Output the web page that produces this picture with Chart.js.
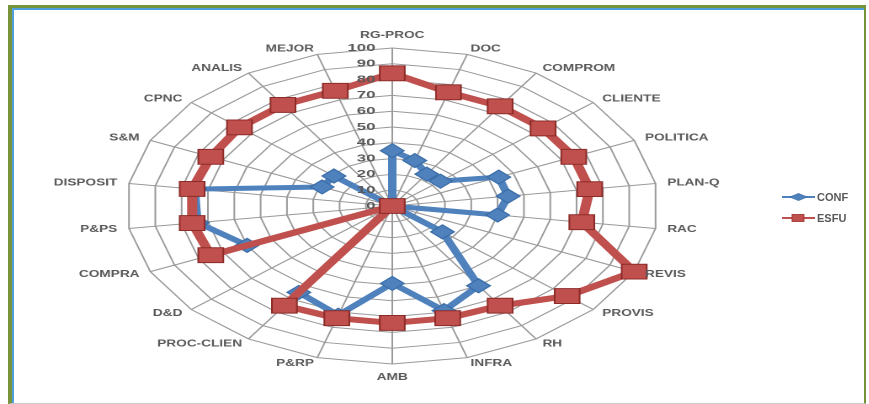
<!DOCTYPE html>
<html>
<head>
<meta charset="utf-8">
<title>CONF / ESFU</title>
<script src="https://cdn.jsdelivr.net/npm/chart.js@4.4.1/dist/chart.umd.min.js"></script>
<style>
  html, body { margin: 0; padding: 0; background: #fff; }
  body { width: 869px; height: 404px; position: relative; overflow: hidden; }

  /* picture frame */
  .frame {
    position: absolute; left: 8px; top: 5px; width: 852px; height: 395px;
    border-top: 3px solid #77933c; border-left: 4px solid #77933c;
    border-right: 2px solid #77933c; border-bottom: 1px solid #c8c8c8;
  }
  .frame::before {
    content: ''; position: absolute; left: 0; top: 0; right: 0; bottom: 0;
    border-top: 2px solid #4f9fdc; border-left: 2px solid #4f9fdc;
  }

  /* the source picture is stretched sideways, so is the chart */
  #stretch {
    position: absolute; left: 0; top: 0; width: 466px; height: 404px;
    transform-origin: 0 0; transform: scaleX(1.6835);
  }
  #radar { width: 466px; height: 404px; }

  .legend {
    position: absolute; left: 782px; top: 186px;
    font: bold 11px 'Liberation Sans', Arial, sans-serif; color: #595959;
  }
  .legend div { height: 21px; display: flex; align-items: center; }
  .legend svg { margin-right: 2px; }
</style>
</head>
<body>
<div class="frame"></div>
<div id="stretch"><canvas id="radar" width="466" height="404"></canvas></div>
<div class="legend">
  <div>
    <svg width="33" height="12"><line x1="0" y1="6" x2="33" y2="6" stroke="#4f81bd" stroke-width="2"/><polygon points="8,6 16.5,2.5 25,6 16.5,9.5" fill="#4f81bd" stroke="#3b6ea8" stroke-width="0.8"/></svg>CONF
  </div>
  <div>
    <svg width="33" height="12"><line x1="0" y1="6" x2="33" y2="6" stroke="#c0504d" stroke-width="2"/><rect x="10" y="2.5" width="12" height="7" fill="#c0504d" stroke="#9b2d2a" stroke-width="0.8"/></svg>ESFU
  </div>
</div>

<script>
/* ============ DATA ============ */
const categories = ['RG-PROC', 'DOC', 'COMPROM', 'CLIENTE', 'POLITICA', 'PLAN-Q', 'RAC', 'REVIS',
  'PROVIS', 'RH', 'INFRA', 'AMB', 'P&RP', 'PROC-CLIEN', 'D&D', 'COMPRA', 'P&PS', 'DISPOSIT',
  'S&M', 'CPNC', 'ANALIS', 'MEJOR'];
const confValues = [35, 30, 24, 24, 44, 44, 40, 0, 25, 60, 69, 49, 72, 65, 0, 60, 74, 75, 29, 29, 0, 0];
const esfuValues = [84, 75, 75, 75, 75, 75, 72, 100, 87, 75, 74, 74, 74, 75, 0, 75, 76, 76, 75, 76, 76, 76];
const scaleMin = 0;
const scaleMax = 100;
const scaleStep = 10;

const FONT = "'Liberation Sans', Arial, sans-serif";
const TEXT = '#595959';

/* ============ LABEL PLUGIN ============
   Category names sit beside each spoke like Excel does, and are drawn
   a bit narrower to undo the sideways stretch of the canvas.
   Tick numbers sit left of the vertical spoke, 0 included. */
const radarText = {
  id: 'radarText',
  afterDatasetsDraw(chart) {
    const r = chart.scales.r;
    const ctx = chart.ctx;
    ctx.save();
    ctx.fillStyle = TEXT;
    ctx.textBaseline = 'middle';

    ctx.font = `bold 10px ${FONT}`;
    chart.data.labels.forEach((label, i) => {
      const a = r.getIndexAngle(i);
      const sin = Math.sin(a);
      const cos = Math.cos(a);
      const v = r.getPointPosition(i, r.drawingArea);
      let x = v.x + 7 * sin;
      let y = v.y - 6 * cos;
      let align = sin > 0.01 ? 'left' : sin < -0.01 ? 'right' : 'center';
      if (align === 'center') y = v.y - 13 * cos;
      ctx.save();
      ctx.translate(x, y);
      ctx.scale(0.81, 1);
      ctx.textAlign = align;
      ctx.fillText(label, 0, 0);
      ctx.restore();
    });

    ctx.textAlign = 'right';
    r.ticks.forEach((t) => {
      const d = r.getDistanceFromCenterForValue(t.value);
      ctx.fillText(t.label, r.xCenter - 10, r.yCenter - d);
    });
    ctx.restore();
  },
};

new Chart(document.getElementById('radar'), {
  type: 'radar',
  data: {
    labels: categories,
    datasets: [
      {
        label: 'CONF',
        data: confValues,
        order: 1,
        fill: false,
        borderColor: '#4f81bd',
        borderWidth: 5,
        pointStyle: 'rectRot',
        pointRadius: 7,
        pointBackgroundColor: '#4f81bd',
        pointBorderColor: '#3b6ea8',
        pointBorderWidth: 1,
      },
      {
        label: 'ESFU',
        data: esfuValues,
        order: 0,
        fill: false,
        borderColor: '#c0504d',
        borderWidth: 6,
        pointStyle: 'rect',
        pointRadius: 10.5,
        pointBackgroundColor: '#c0504d',
        pointBorderColor: '#8c2b28',
        pointBorderWidth: 1,
      },
    ],
  },
  options: {
    responsive: false,
    devicePixelRatio: 2,
    animation: false,
    layout: { padding: { top: 48, bottom: 40, left: 0, right: 0 } },
    elements: { line: { tension: 0, borderJoinStyle: 'round' } },
    plugins: {
      legend: { display: false },
      tooltip: { enabled: false },
    },
    scales: {
      r: {
        min: scaleMin,
        max: scaleMax,
        ticks: { stepSize: scaleStep, display: false },
        grid: { color: '#9a9a9a', lineWidth: 1 },
        angleLines: { color: '#9a9a9a', lineWidth: 1 },
        pointLabels: { display: false },
      },
    },
  },
  plugins: [radarText],
});
</script>
</body>
</html>
